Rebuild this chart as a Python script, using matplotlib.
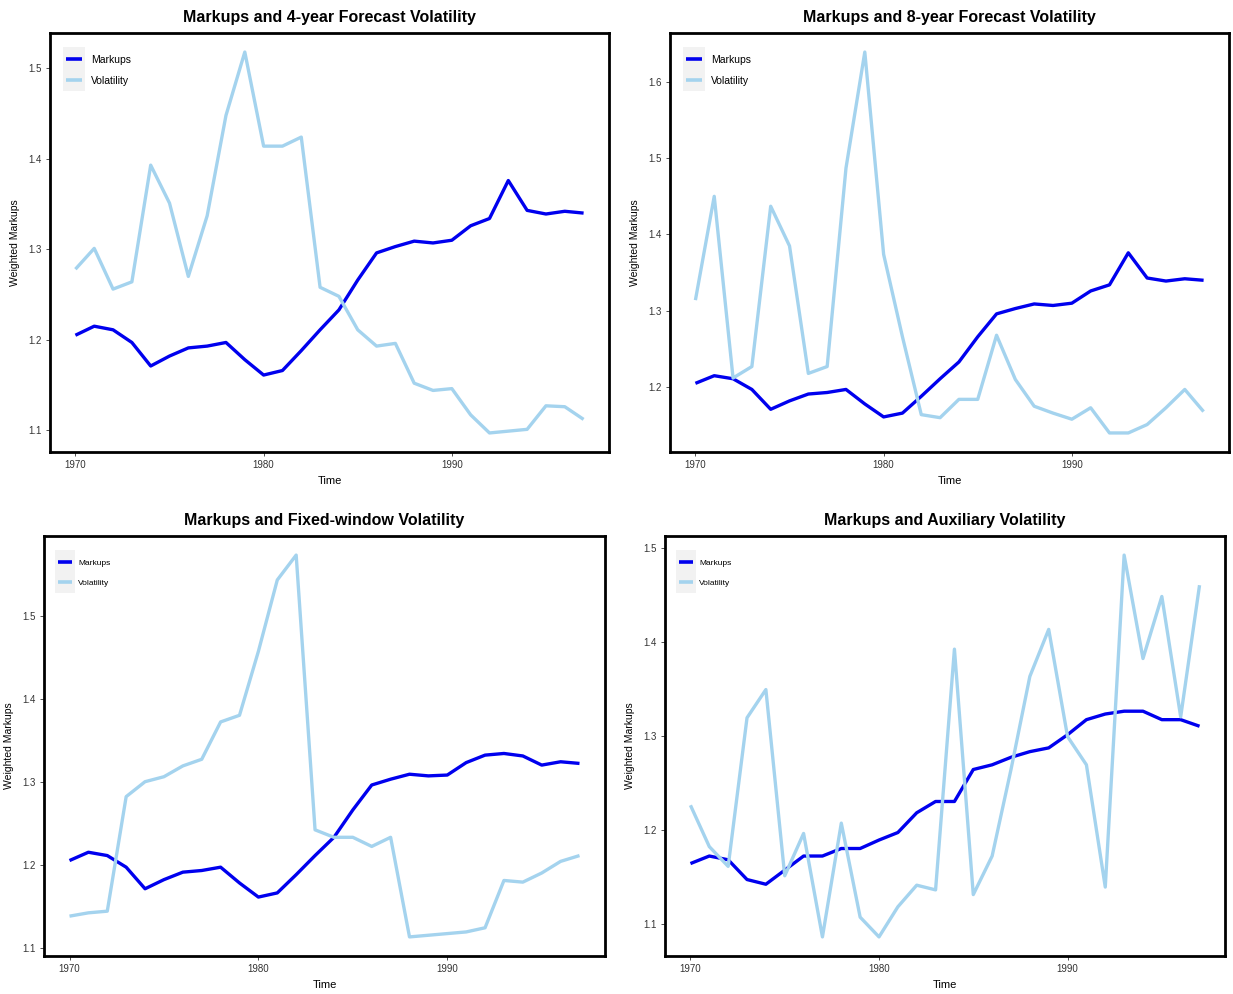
import matplotlib.pyplot as plt
from matplotlib.patches import Rectangle

plt.rcParams['font.family'] = ['Liberation Sans', 'DejaVu Sans']

years = list(range(1970, 1998))

# weighted markups, common series (panels 1 and 2)
markups = [1.205, 1.215, 1.211, 1.197, 1.171, 1.182, 1.191, 1.193, 1.197, 1.178,
           1.161, 1.166, 1.188, 1.211, 1.233, 1.266, 1.296, 1.303, 1.309, 1.307,
           1.310, 1.326, 1.334, 1.376, 1.343, 1.339, 1.342, 1.340]

# markups for the fixed-window sample
markups_fixed = [1.205, 1.215, 1.211, 1.197, 1.171, 1.182, 1.191, 1.193, 1.197, 1.178,
                 1.161, 1.166, 1.188, 1.211, 1.233, 1.266, 1.296, 1.303, 1.309, 1.307,
                 1.308, 1.323, 1.332, 1.334, 1.331, 1.320, 1.324, 1.322]

# markups for the auxiliary sample
markups_aux = [1.164, 1.172, 1.168, 1.147, 1.142, 1.157, 1.172, 1.172, 1.180, 1.180,
               1.189, 1.197, 1.218, 1.230, 1.230, 1.264, 1.269, 1.277, 1.283, 1.287,
               1.301, 1.317, 1.323, 1.326, 1.326, 1.317, 1.317, 1.310]

vol_4yr = [1.278, 1.301, 1.256, 1.264, 1.393, 1.351, 1.270, 1.337, 1.448, 1.518,
           1.414, 1.414, 1.424, 1.258, 1.248, 1.211, 1.193, 1.196, 1.152, 1.144,
           1.146, 1.117, 1.097, 1.099, 1.101, 1.127, 1.126, 1.112]

vol_8yr = [1.314, 1.450, 1.212, 1.227, 1.437, 1.385, 1.218, 1.227, 1.487, 1.639,
           1.374, 1.266, 1.164, 1.160, 1.184, 1.184, 1.268, 1.210, 1.175, 1.166,
           1.158, 1.173, 1.140, 1.140, 1.151, 1.173, 1.197, 1.168]

vol_fixed = [1.138, 1.142, 1.144, 1.282, 1.300, 1.306, 1.319, 1.327, 1.372, 1.380,
             1.457, 1.543, 1.573, 1.242, 1.233, 1.233, 1.222, 1.233, 1.113, 1.115,
             1.117, 1.119, 1.124, 1.181, 1.179, 1.190, 1.204, 1.211]

vol_aux = [1.226, 1.182, 1.161, 1.319, 1.349, 1.151, 1.196, 1.086, 1.207, 1.107,
           1.086, 1.118, 1.141, 1.136, 1.392, 1.131, 1.172, 1.264, 1.363, 1.413,
           1.299, 1.269, 1.139, 1.492, 1.382, 1.448, 1.320, 1.460]

titles = ["Markups and 4-year Forecast Volatility",
          "Markups and 8-year Forecast Volatility",
          "Markups and Fixed-window Volatility",
          "Markups and Auxiliary Volatility"]

W, H = 1233, 994
MARKUP_COL = '#0000EE'
VOL_COL = '#A4D3EE'


def px_rect(l, t, r, b):
    return [l / W, (H - b) / H, (r - l) / W, (b - t) / H]


def draw_panel(rect, title, mk, vol, ticks, legend_size, leg_y, leg_space):
    ax = fig.add_axes(px_rect(*rect))
    ax.plot(years, mk, color=MARKUP_COL, lw=2.4, label='Markups', solid_capstyle='butt')
    ax.plot(years, vol, color=VOL_COL, lw=2.4, label='Volatility', solid_capstyle='butt')

    lo = min(min(mk), min(vol))
    hi = max(max(mk), max(vol))
    pad = (hi - lo) * 0.05
    ax.set_ylim(lo - pad, hi + pad)
    ax.set_xlim(1970 - 27 * 0.05, 1997 + 27 * 0.05)
    ax.set_xticks([1970, 1980, 1990])
    ax.set_yticks(ticks)
    ax.set_yticklabels(['%.1f' % t for t in ticks])

    ax.tick_params(direction='out', length=3, width=0.6, color='#333333',
                   labelsize=7, labelcolor='#333333', pad=3)
    for s in ax.spines.values():
        s.set_linewidth(2.0)
        s.set_color('black')

    ax.set_title(title, fontsize=11.5, fontweight='bold', pad=8)
    ax.set_xlabel('Time', fontsize=8, labelpad=4)
    ax.set_ylabel('Weighted Markups', fontsize=7.5, labelpad=6)

    leg = ax.legend(loc='upper left', bbox_to_anchor=(0.015, leg_y), frameon=False,
                    fontsize=legend_size, handlelength=1.6, handletextpad=0.8,
                    labelspacing=leg_space, borderaxespad=0.3)
    for line in leg.get_lines():
        line.set_linewidth(2.6)

    # grey key background behind the legend handles
    fig.canvas.draw()
    boxes = [h.get_window_extent() for h in leg.legend_handles]
    x0 = min(b.x0 for b in boxes) - 3
    x1 = max(b.x1 for b in boxes) + 3
    y0 = min(b.y0 for b in boxes) - 11
    y1 = max(b.y1 for b in boxes) + 12
    inv = ax.transAxes.inverted()
    (ax0, ay0), (ax1, ay1) = inv.transform([(x0, y0), (x1, y1)])
    ax.add_patch(Rectangle((ax0, ay0), ax1 - ax0, ay1 - ay0, transform=ax.transAxes,
                           facecolor='#F2F2F2', edgecolor='none', zorder=0.5))
    return ax


fig = plt.figure(figsize=(W / 100, H / 100), dpi=100)

draw_panel((50, 33, 609, 452), titles[0], markups, vol_4yr,
           [1.1, 1.2, 1.3, 1.4, 1.5], 7.5, 0.966, 1.1)
draw_panel((670, 33, 1229, 452), titles[1], markups, vol_8yr,
           [1.2, 1.3, 1.4, 1.5, 1.6], 7.5, 0.966, 1.1)
draw_panel((44, 536, 605, 956), titles[2], markups_fixed, vol_fixed,
           [1.1, 1.2, 1.3, 1.4, 1.5], 6, 0.959, 1.5)
draw_panel((665, 536, 1225, 956), titles[3], markups_aux, vol_aux,
           [1.1, 1.2, 1.3, 1.4, 1.5], 6, 0.959, 1.5)

fig.savefig('out.png', dpi=100)
